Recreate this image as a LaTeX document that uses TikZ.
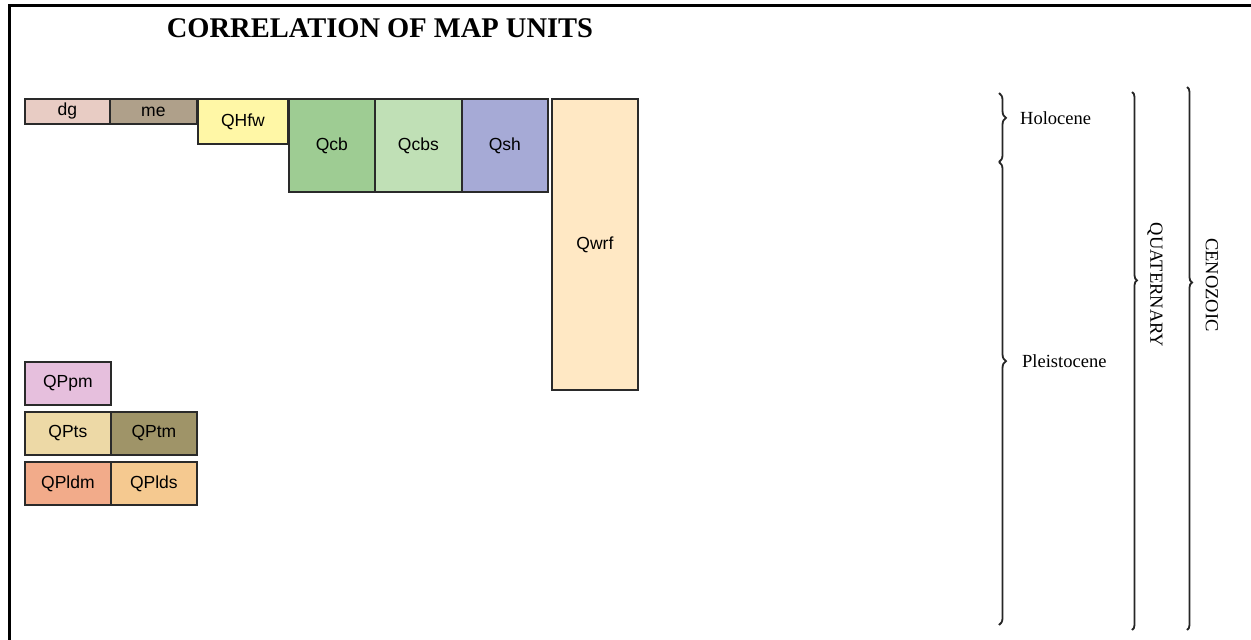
\documentclass[tikz,border=0pt]{standalone}
\usepackage{fontspec}
\setmainfont{Liberation Serif}
\newfontfamily\unitfont{Liberation Sans}
\usetikzlibrary{decorations.pathreplacing}

\definecolor{cdg}{HTML}{E8CCC4}
\definecolor{cme}{HTML}{AFA08A}
\definecolor{cqhfw}{HTML}{FFF7A6}
\definecolor{cqcb}{HTML}{9ECC93}
\definecolor{cqcbs}{HTML}{C0E0B6}
\definecolor{cqsh}{HTML}{A6AAD6}
\definecolor{cqwrf}{HTML}{FFE8C4}
\definecolor{cqppm}{HTML}{E6BFDD}
\definecolor{cqpts}{HTML}{EDD9A6}
\definecolor{cqptm}{HTML}{9F9468}
\definecolor{cqpldm}{HTML}{F2AB8A}
\definecolor{cqplds}{HTML}{F5C990}
\definecolor{edge}{HTML}{2A2A2A}

\tikzset{
  unit/.style={draw=edge, line width=1.8pt, inner sep=0pt, anchor=north west,
    font=\unitfont\fontsize{17.5}{17.5}\selectfont},
  agebrace/.style 2 args={draw=black!85, line width=1.8pt,
    decorate, decoration={brace, amplitude=#1, aspect=#2}},
  agelabel/.style={font=\fontsize{18.5}{18.5}\selectfont, inner sep=0pt},
}

\begin{document}
\begin{tikzpicture}[x=1pt, y=-1pt]
\useasboundingbox (0,0) rectangle (1251,640);
\fill[white] (0,0) rectangle (1251,640);

% frame
\draw[line width=3pt] (1251,5) -- (9,5) -- (9,640);

% title
\node[font=\bfseries\fontsize{28.5}{28.5}\selectfont, inner sep=0pt] (title) at (380,28) {CORRELATION OF MAP UNITS};

% map units (x, y = top left corner)
\node[unit, fill=cdg,    minimum width=85pt, minimum height=25pt] (dg)    at (24,98)  {dg};
\node[unit, fill=cme,    minimum width=87pt, minimum height=25pt] (me)    at (109,98) {me};
\node[unit, fill=cqhfw,  minimum width=90pt, minimum height=45pt] (qhfw)  at (197,98) {QHfw};
\node[unit, fill=cqcb,   minimum width=86pt, minimum height=93pt] (qcb)   at (288,98) {Qcb};
\node[unit, fill=cqcbs,  minimum width=87pt, minimum height=93pt] (qcbs)  at (374,98) {Qcbs};
\node[unit, fill=cqsh,   minimum width=86pt, minimum height=93pt] (qsh)   at (461,98) {Qsh};
\node[unit, fill=cqwrf,  minimum width=86pt, minimum height=291pt] (qwrf) at (551,98) {Qwrf};

\node[unit, fill=cqppm,  minimum width=86pt, minimum height=43pt] (qppm)  at (24,361)  {QPpm};
\node[unit, fill=cqpts,  minimum width=86pt, minimum height=43pt] (qpts)  at (24,411)  {QPts};
\node[unit, fill=cqptm,  minimum width=86pt, minimum height=43pt] (qptm)  at (110,411) {QPtm};
\node[unit, fill=cqpldm, minimum width=86pt, minimum height=43pt] (qpldm) at (24,461)  {QPldm};
\node[unit, fill=cqplds, minimum width=86pt, minimum height=43pt] (qplds) at (110,461) {QPlds};

% time scale braces
\draw[agebrace={7pt}{0.36}]  (999,93) -- (999,162);
\draw[agebrace={7pt}{0.43}]  (999,162) -- (999,625);
\draw[agebrace={5pt}{0.35}]  (1132,92) -- (1132,630);
\draw[agebrace={5pt}{0.36}]  (1187,87) -- (1187,630);

\node[agelabel, anchor=west] (holocene) at (1020,118) {Holocene};
\node[agelabel, anchor=west] (pleisto)  at (1022,361) {Pleistocene};
\node[agelabel, rotate=-90] (quat) at (1155,285) {QUATERNARY};
\node[agelabel, rotate=-90] (ceno) at (1212,285) {CENOZOIC};
\end{tikzpicture}
\end{document}
